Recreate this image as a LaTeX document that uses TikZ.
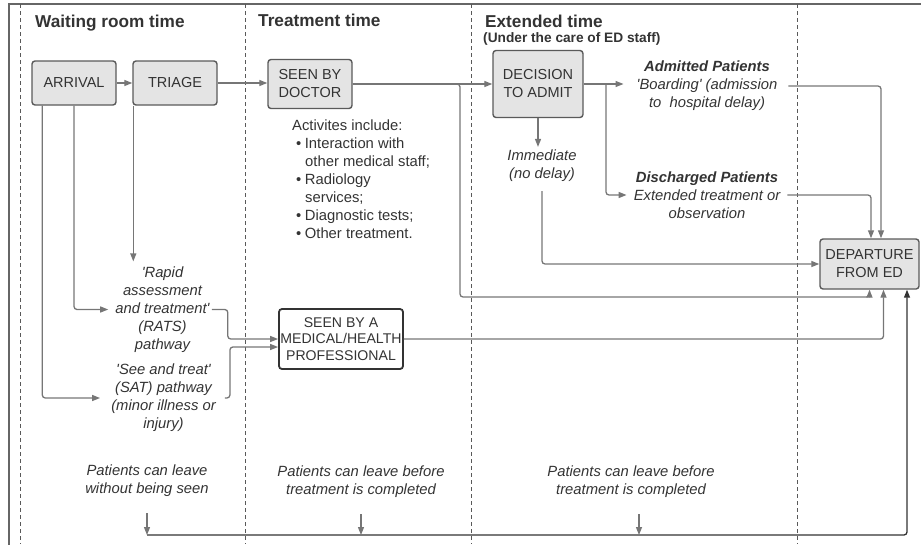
\documentclass[tikz,border=0pt]{standalone}
\usepackage{fontspec}
\setmainfont{Liberation Sans}
\usetikzlibrary{arrows.meta}

\definecolor{txtgrey}{HTML}{333333}
\definecolor{linegrey}{HTML}{767676}
\definecolor{boxfill}{HTML}{E4E4E4}
\definecolor{boxline}{HTML}{5A5A5A}

\newcommand{\bul}{\hspace*{4pt}\textbullet\hspace*{3.5pt}}
\newcommand{\actind}{\hspace*{13pt}}
\newcommand{\q}{\textquotesingle}

\tikzset{
  frame/.style   = { line width=2pt, draw=black!60 },
  lane/.style    = { dash pattern=on 4pt off 3pt, line width=0.8pt, black!65 },
  heading/.style = { anchor=base west, inner sep=0pt, text=txtgrey, font=\fontsize{17.2}{20}\selectfont\bfseries },
  subheading/.style = { heading, font=\fontsize{13.7}{16}\selectfont\bfseries },
  stage/.style   = { draw=boxline, fill=boxfill, line width=1.4pt, rounded corners=3pt, text=txtgrey, align=center, inner sep=0pt, font=\fontsize{14.5}{18}\selectfont },
  stage_white/.style = { stage, fill=white, draw=txtgrey, line width=1.8pt, font=\fontsize{14.1}{16.5}\selectfont },
  note/.style    = { text=txtgrey, align=center, inner sep=1pt, font=\fontsize{14.8}{18}\selectfont\itshape },
  plain/.style   = { note, align=left, font=\fontsize{14.8}{18}\selectfont },
  conn/.style    = { draw=linegrey, line width=1.3pt, rounded corners=3pt, ->, >={Triangle[length=8pt,width=6pt]} },
  conn_dark/.style = { conn, draw=txtgrey },
}

\begin{document}
\begin{tikzpicture}[x=1pt,y=-1pt]
    \useasboundingbox (0,0) rectangle (921,544);
    \clip (0,0) rectangle (921,544);

    % Frame and time lanes
    \draw[frame] (9,4) rectangle (960,580);
    \foreach \x in {20,245.5,471,797}
        \draw[lane] (\x,4) -- (\x,544);

    % Draw headings
    \node[heading] (h_wait)  at (35,27.5) {Waiting room time};
    \node[heading] (h_treat) at (258,26.5) {Treatment time};
    \node[heading] (h_ext)   at (485,27) {Extended time};
    \node[subheading] (h_care) at (483,42.5) {(Under the care of ED staff)};

    % Draw stages
    \node[stage, minimum width=84pt, minimum height=44pt] (arrival)   at (74,83)    {ARRIVAL};
    \node[stage, minimum width=84pt, minimum height=44pt] (triage)    at (175,83)   {TRIAGE};
    \node[stage, minimum width=84pt, minimum height=49pt] (doctor)    at (310,84)   {SEEN BY\\DOCTOR};
    \node[stage, minimum width=90pt, minimum height=67pt] (decision)  at (538,84)   {DECISION\\TO ADMIT};
    \node[stage, minimum width=99pt, minimum height=50pt] (departure) at (869.5,264) {DEPARTURE\\FROM ED};
    \node[stage_white, minimum width=124pt, minimum height=60pt] (medical) at (341,339) {SEEN BY A\\MEDICAL/HEALTH\\PROFESSIONAL};

    % Draw notes
    \node[note] (admitted)   at (707,86)  {\textbf{Admitted Patients}\\\q Boarding\q{} (admission\\to\ \ hospital delay)};
    \node[note] (discharged) at (707,195) {\textbf{Discharged Patients}\\Extended treatment or\\observation};
    \node[note] (immediate)  at (542,166) {Immediate\\(no delay)};
    \node[note] (rats)       at (162.5,309.5) {\q Rapid\\assessment\\and treatment\q\\(RATS)\\pathway};
    \node[note] (sat)        at (163.5,398) {\q See and treat\q\\(SAT) pathway\\(minor illness or\\injury)};
    \node[note] (leave1)     at (147,481) {Patients can leave\\without being seen};
    \node[note] (leave2)     at (361,482) {Patients can leave before\\treatment is completed};
    \node[note] (leave3)     at (631,482) {Patients can leave before\\treatment is completed};
    \node[plain, anchor=north west] (activities) at (291,119) {Activites include:\\\bul Interaction with\\\actind other medical staff;\\\bul Radiology\\\actind services;\\\bul Diagnostic tests;\\\bul Other treatment.};

    % connect stages
    \draw[conn] (arrival) -- (triage);
    \draw[conn] (triage.east) -- (triage.east -| doctor.west);
    \draw[conn] (doctor) -- (decision);
    \draw[conn] (doctor.east) -| (460,297) -| (departure.south);

    % admitted / discharged / immediate
    \coordinate (split) at (606,84);
    \draw[conn] (decision.east) -- ([xshift=-12pt]decision.east -| admitted.west);
    \draw[conn] (split) |- ([xshift=-6pt]discharged.west);
    \draw[conn, shorten >=2pt] (decision) -- (decision |- immediate.north);
    \draw[conn] ([yshift=-8pt]immediate.south) |- (departure.west);
    \draw[conn] ([xshift=10pt]admitted.east) -| ([xshift=11.5pt]departure.north);
    \draw[conn] ([xshift=6pt]discharged.east) -| ([xshift=1.5pt]departure.north);

    % fast track pathways
    \draw[conn] (arrival.south) |- ([xshift=-6pt]rats.west);
    \draw[conn] ([xshift=11pt]arrival.south west) |- ([xshift=-10pt]sat.west);
    \draw[conn, shorten >=4pt] ([xshift=1pt]triage.south west) -- ([xshift=1pt]triage.south west |- rats.north);
    \draw[conn] ([xshift=1pt]rats.east) -- ++(16,0) |- (medical.west);
    \draw[conn] ([xshift=8pt]sat.east) -- ++(5,0) |- ([yshift=-8pt]medical.west);
    \draw[conn] (medical.east) -| ([xshift=14pt]departure.south);

    % leaving early
    \coordinate (exit) at (907,535);
    \draw[conn_dark] (leave1.south |- exit) -- (exit) -- (exit |- departure.south);
    \foreach \n in {leave1,leave2}
        \draw[conn] ([yshift=-15pt]\n.south) -- (\n.south |- exit);
    \draw[conn] ([xshift=8pt,yshift=-15pt]leave3.south) -- ([xshift=8pt]leave3.south |- exit);

\end{tikzpicture}
\end{document}
